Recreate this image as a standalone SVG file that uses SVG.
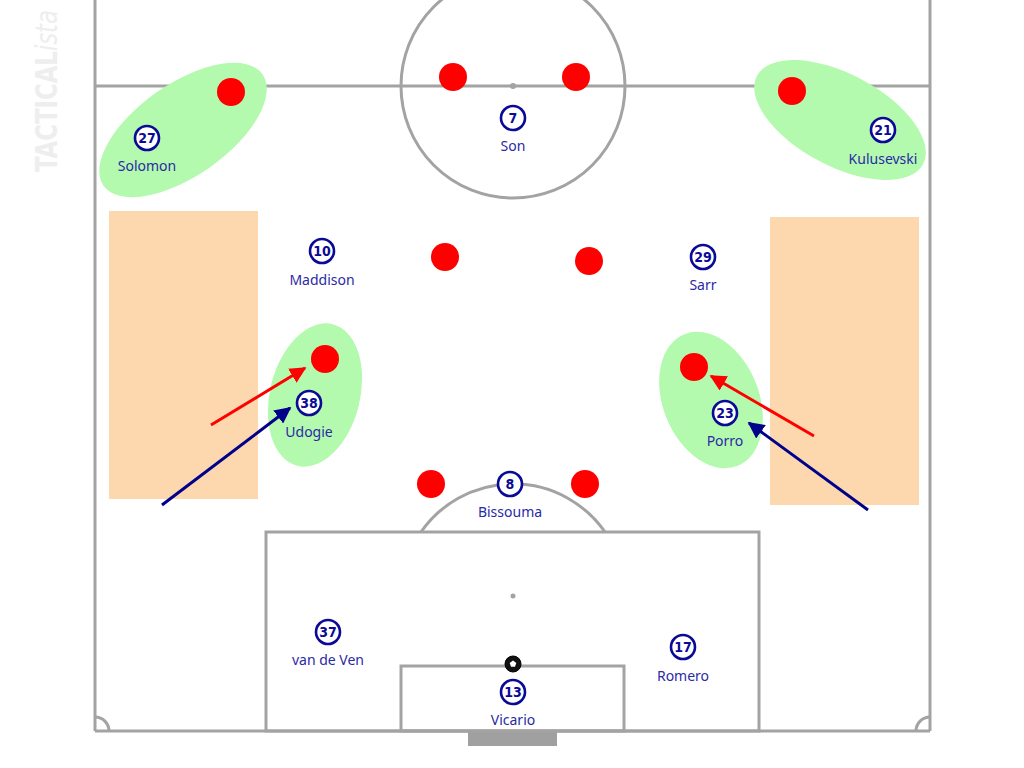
<svg xmlns="http://www.w3.org/2000/svg" width="1024" height="768" viewBox="0 0 1024 768">
<style>
.line{fill:none;stroke:#a3a3a3;stroke-width:3}
.zone{fill:#fdd7ae}
.hl{fill:#b3f9ae}
.opp{fill:#ff0000}
.pc{fill:#fff;stroke:#0a0a96;stroke-width:2.6}
.num{font-family:"DejaVu Sans Condensed","DejaVu Sans",sans-serif;font-weight:bold;font-size:14px;fill:#0a0a96;text-anchor:middle;font-stretch:condensed}
.name{font-family:"Noto Sans","Liberation Sans",sans-serif;font-size:14px;fill:#2a2aa6;text-anchor:middle}
</style>
<defs>
<marker id="ar" viewBox="0 0 10 10" refX="9" refY="5" markerWidth="5.5" markerHeight="5.5" orient="auto" markerUnits="strokeWidth"><path d="M0,0 L10,5 L0,10 z" fill="#ff0000"/></marker>
<marker id="ab" viewBox="0 0 10 10" refX="9" refY="5" markerWidth="5.5" markerHeight="5.5" orient="auto" markerUnits="strokeWidth"><path d="M0,0 L10,5 L0,10 z" fill="#00008b"/></marker>
</defs>
<rect width="1024" height="768" fill="#ffffff"/>
<text transform="translate(57,172) rotate(-90)" font-family="'DejaVu Sans Condensed','DejaVu Sans',sans-serif" font-size="31" font-weight="bold" fill="#eeeeee" textLength="162" lengthAdjust="spacingAndGlyphs">TACTICAL<tspan font-weight="normal" font-style="italic">ista</tspan></text>
<g id="zones">
<rect class="zone" x="109" y="211" width="149" height="288"/>
<rect class="zone" x="770" y="217" width="149" height="288"/>
</g>
<g id="pitch">
<line class="line" x1="95" y1="0" x2="95" y2="731"/>
<line class="line" x1="930" y1="0" x2="930" y2="731"/>
<line class="line" x1="95" y1="731" x2="930" y2="731"/>
<line class="line" x1="95" y1="86" x2="930" y2="86"/>
<circle class="line" cx="513" cy="86" r="112"/>
<circle cx="513" cy="86" r="3" fill="#a3a3a3"/>
<rect class="line" x="266" y="532" width="493" height="199"/>
<rect class="line" x="401" y="666" width="223" height="65"/>
<path class="line" d="M421,532 A112,112 0 0 1 605,532"/>
<circle cx="513" cy="596" r="2.5" fill="#a3a3a3"/>
<path class="line" d="M95,717 A14,14 0 0 1 109,731"/>
<path class="line" d="M930,717 A14,14 0 0 0 916,731"/>
<rect x="468" y="732" width="89" height="14" fill="#a0a0a0"/>
</g>
<g id="highlights">
<ellipse class="hl" cx="183" cy="130" rx="97" ry="46" transform="rotate(-35 183 130)"/>
<ellipse class="hl" cx="840" cy="120" rx="94" ry="46" transform="rotate(28 840 120)"/>
<ellipse class="hl" cx="315" cy="395" rx="45" ry="73" transform="rotate(14 315 395)"/>
<ellipse class="hl" cx="711" cy="400" rx="48" ry="71" transform="rotate(-22 711 400)"/>
</g>
<g id="opponents">
<circle class="opp" cx="231" cy="92" r="14"/>
<circle class="opp" cx="453" cy="77" r="14"/>
<circle class="opp" cx="576" cy="77" r="14"/>
<circle class="opp" cx="792" cy="91" r="14"/>
<circle class="opp" cx="445" cy="257" r="14"/>
<circle class="opp" cx="589" cy="261" r="14"/>
<circle class="opp" cx="325" cy="359" r="14"/>
<circle class="opp" cx="694" cy="367" r="14"/>
<circle class="opp" cx="431" cy="484" r="14"/>
<circle class="opp" cx="585" cy="484" r="14"/>
</g>
<g id="connectors">
<line x1="211" y1="425" x2="305" y2="368" stroke="#ff0000" stroke-width="3" marker-end="url(#ar)"/>
<line x1="162" y1="505" x2="290" y2="408" stroke="#00008b" stroke-width="3" marker-end="url(#ab)"/>
<line x1="814" y1="436" x2="711" y2="376" stroke="#ff0000" stroke-width="3" marker-end="url(#ar)"/>
<line x1="868" y1="510" x2="749" y2="423" stroke="#00008b" stroke-width="3" marker-end="url(#ab)"/>
</g>
<g id="p27"><circle class="pc" cx="147" cy="138" r="12"/><text class="num" x="147" y="143">27</text><text class="name" x="147" y="171">Solomon</text></g>
<g id="p7"><circle class="pc" cx="513" cy="118" r="12"/><text class="num" x="513" y="123">7</text><text class="name" x="513" y="151">Son</text></g>
<g id="p21"><circle class="pc" cx="883" cy="130" r="12"/><text class="num" x="883" y="135">21</text><text class="name" x="883" y="164">Kulusevski</text></g>
<g id="p10"><circle class="pc" cx="322" cy="251" r="12"/><text class="num" x="322" y="256">10</text><text class="name" x="322" y="285">Maddison</text></g>
<g id="p29"><circle class="pc" cx="703" cy="257" r="12"/><text class="num" x="703" y="262">29</text><text class="name" x="703" y="290">Sarr</text></g>
<g id="p38"><circle class="pc" cx="309" cy="403" r="12"/><text class="num" x="309" y="408">38</text><text class="name" x="309" y="437">Udogie</text></g>
<g id="p23"><circle class="pc" cx="725" cy="413" r="12"/><text class="num" x="725" y="418">23</text><text class="name" x="725" y="446">Porro</text></g>
<g id="p8"><circle class="pc" cx="510" cy="484" r="12"/><text class="num" x="510" y="489">8</text><text class="name" x="510" y="517">Bissouma</text></g>
<g id="p37"><circle class="pc" cx="328" cy="632" r="12"/><text class="num" x="328" y="637">37</text><text class="name" x="328" y="665">van de Ven</text></g>
<g id="p17"><circle class="pc" cx="683" cy="647" r="12"/><text class="num" x="683" y="652">17</text><text class="name" x="683" y="681">Romero</text></g>
<g id="p13"><circle class="pc" cx="513" cy="692" r="12"/><text class="num" x="513" y="697">13</text><text class="name" x="513" y="725">Vicario</text></g>
<g id="ball">
<circle cx="513" cy="664" r="8" fill="#111"/>
<polygon points="513,660.5 516.3,663 515,666.8 511,666.8 509.7,663" fill="#fff"/>
<circle cx="513" cy="664" r="8" fill="none" stroke="#000" stroke-width="1"/>
</g>
</svg>
